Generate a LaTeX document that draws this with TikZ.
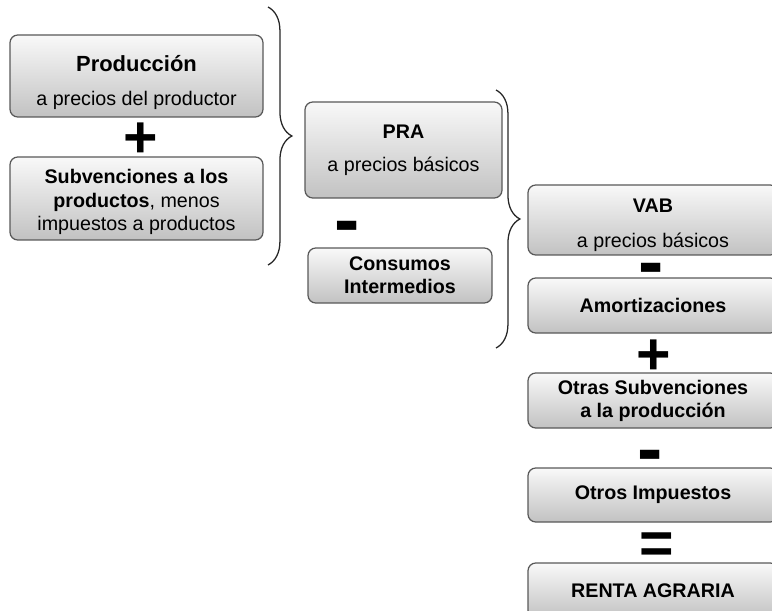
\documentclass[tikz,border=0pt]{standalone}
\usepackage{fontspec}
\setmainfont{Liberation Sans}
\usetikzlibrary{decorations.pathreplacing}
\begin{document}
\begin{tikzpicture}[x=0.025cm,y=-0.025cm]
    \tikzstyle{box}=[draw=black!65, line width=0.9pt, rounded corners=5.5pt, top color=gray!5, bottom color=gray!48, align=center, inner sep=0pt, font=\fontsize{14}{16.4}\selectfont]
    \tikzstyle{sign}=[inner sep=0pt, font=\bfseries\fontsize{42}{42}\selectfont]
    \tikzstyle{minussign}=[inner sep=0pt, font=\bfseries\fontsize{54}{54}\selectfont]
    \tikzstyle{brc}=[decorate, decoration={brace, amplitude=17pt}, line width=0.9pt, black!85]
    \useasboundingbox (0,0) rectangle (772,611);
    \clip (0,0) rectangle (772,611);
    % left column
    \node[box, minimum width=253*0.025cm, minimum height=82*0.025cm] (prod) at (136.5,76)
      {\rule{0pt}{21pt}{\bfseries\fontsize{15.6}{18}\selectfont Producción}\\[8pt] a precios del productor};
    \node[sign] (plusa) at (141,140) {+};
    \node[box, minimum width=253*0.025cm, minimum height=83*0.025cm] (subv) at (136.5,198.5)
      {\rule{0pt}{15pt}\textbf{Subvenciones a los}\\ \textbf{productos}, menos\\ impuestos a productos};
    \coordinate (bratop) at (268,7);
    \coordinate (brabot) at (268,265);
    \draw[brc] (bratop) -- (brabot);
    % middle column
    \node[box, minimum width=197*0.025cm, minimum height=96*0.025cm] (pra) at (403.5,150)
      {\textbf{PRA}\\[7pt] a precios básicos};
    \node[minussign] (minusa) at (347,233) {-};
    \node[box, minimum width=184*0.025cm, minimum height=55*0.025cm] (cons) at (400,275.5)
      {\textbf{Consumos}\\ \textbf{Intermedios}};
    \coordinate (brbtop) at (496,90);
    \coordinate (brbbot) at (496,348);
    \draw[brc] (brbtop) -- (brbbot);
    % right column
    \node[box, minimum width=250*0.025cm, minimum height=70*0.025cm] (vab) at (653,220)
      {\rule{0pt}{17pt}\textbf{VAB}\\[8pt] a precios básicos};
    \node[minussign] (minusb) at (651,275) {-};
    \node[box, minimum width=250*0.025cm, minimum height=55*0.025cm] (amort) at (653,305.5)
      {\textbf{Amortizaciones}};
    \node[sign] (plusb) at (654,357) {+};
    \node[box, minimum width=250*0.025cm, minimum height=55*0.025cm] (otsub) at (653,400.5)
      {\textbf{Otras Subvenciones}\\ \textbf{a la producción}};
    \node[minussign] (minusc) at (650,462) {-};
    \node[box, minimum width=250*0.025cm, minimum height=54*0.025cm] (otimp) at (653,495)
      {\textbf{Otros Impuestos}};
    \node[sign] (eq) at (657,548) {=};
    \node[box, minimum width=250*0.025cm, minimum height=55*0.025cm] (renta) at (653,590.5)
      {\textbf{RENTA AGRARIA}};
  \end{tikzpicture}
\end{document}
